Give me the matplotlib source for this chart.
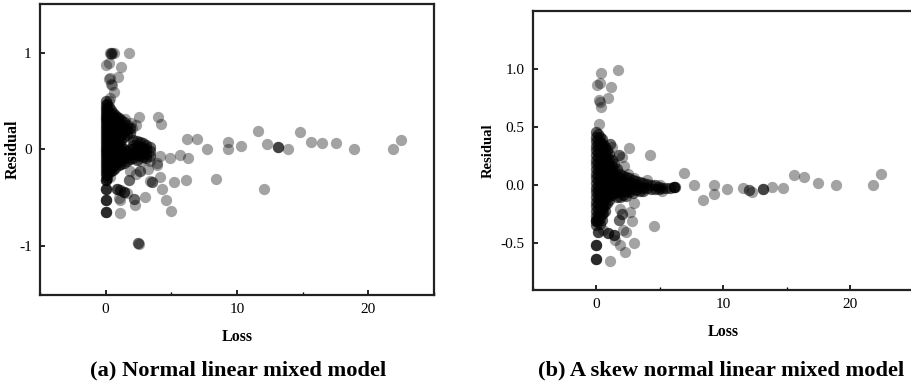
import matplotlib.pyplot as plt
from matplotlib.ticker import MultipleLocator

plt.rcParams['font.family'] = ['Liberation Serif', 'DejaVu Serif']
plt.rcParams['axes.unicode_minus'] = False

# ---------- (a) Normal linear mixed model ----------
# dense core: loss position -> residuals stacked at that loss
a_core = [
    (0.00, [0.50, 0.46, 0.43, 0.40, 0.37, 0.34, 0.31, 0.28, 0.25, 0.22, 0.19, 0.16, 0.13, 0.10, 0.07,
            0.04, 0.01, -0.02, -0.05, -0.08, -0.11, -0.14, -0.17, -0.20, -0.23, -0.26]),
    (0.12, [0.47, 0.42, 0.37, 0.33, 0.29, 0.24, 0.20, 0.15, 0.11, 0.06, 0.02, -0.03, -0.07, -0.12,
            -0.16, -0.21, -0.25, -0.29]),
    (0.25, [0.44, 0.39, 0.35, 0.30, 0.26, 0.21, 0.17, 0.12, 0.08, 0.03, -0.01, -0.06, -0.10, -0.15,
            -0.19, -0.23]),
    (0.40, [0.41, 0.36, 0.31, 0.27, 0.22, 0.18, 0.13, 0.09, 0.04, 0.00, -0.05, -0.09, -0.14, -0.18, -0.22]),
    (0.55, [0.38, 0.33, 0.28, 0.24, 0.19, 0.15, 0.10, 0.06, 0.01, -0.03, -0.08, -0.12, -0.17, -0.21]),
    (0.70, [0.36, 0.31, 0.26, 0.21, 0.17, 0.12, 0.07, 0.03, -0.02, -0.06, -0.11, -0.15, -0.19]),
    (0.85, [0.34, 0.29, 0.24, 0.19, 0.14, 0.09, 0.05, 0.00, -0.04, -0.09, -0.13]),
    (1.00, [0.32, 0.27, 0.22, 0.17, 0.12, 0.07, 0.02, -0.03, -0.07, -0.12, -0.16]),
    (1.20, [0.30, 0.25, 0.20, 0.15, 0.10, 0.04, -0.01, -0.06, -0.10, -0.15]),
    (1.40, [0.28, 0.23, 0.18, 0.13, 0.01, -0.04, -0.09, -0.14]),
    (1.60, [0.25, 0.20, 0.15, -0.02, -0.07, -0.12]),
    (1.85, [0.22, 0.17, 0.00, -0.05, -0.10]),
    (2.10, [0.10, 0.05, 0.00, -0.05, -0.09]),
    (2.35, [0.09, 0.04, -0.01, -0.06, -0.11]),
    (2.60, [0.08, 0.03, -0.02, -0.07]),
    (2.85, [0.07, 0.02, -0.03, -0.08]),
    (3.10, [0.05, 0.00, -0.05, -0.09]),
    (3.35, [0.03, -0.02, -0.07]),
]
a_loss = [0.41, 0.43, 0.45, 0.30, 0.62, 1.75, 0.05, 0.25, 1.17, 0.23, 0.30, 0.91, 0.43, 0.49, 0.61, 0.23, 0.30,
          2.52, 3.99, 4.22, 1.50, 2.00, 2.30, 1.90,
          6.20, 6.96, 7.72, 9.30, 9.30, 10.30, 11.58, 12.30, 13.13, 13.13, 13.13, 13.86, 14.78, 15.67,
          16.48, 17.55, 18.90, 21.86, 22.50,
          4.17, 4.93, 5.64, 6.30, 3.90, 3.90, 4.17, 5.23, 6.15, 8.43, 12.04, 4.30, 4.62, 5.00,
          3.53, 3.53, 3.40, 3.02, 2.13, 2.13, 2.26, 1.07, 1.07, 1.75, 1.75, 1.88, 2.64, 2.64,
          2.47, 2.47, 2.55, 0.36, 1.00, 0.87, 0.87, 0.87, 1.37, 1.37, 1.37, 1.10, 1.10,
          0.00, 0.00, 0.00, 0.00, 0.00, 0.00, 0.00, 0.00, 0.00, 0.00, 0.00, 0.00, 0.00, 0.00, 0.00, 0.00,
          1.60, 2.30, 2.70, 3.20, 3.40]
a_resid = [0.99, 0.985, 0.99, 0.99, 1.00, 1.00, 0.87, 0.89, 0.855, 0.73, 0.74, 0.75, 0.68, 0.67, 0.59, 0.50, 0.53,
           0.33, 0.33, 0.26, 0.31, 0.22, 0.25, 0.27,
           0.11, 0.11, 0.01, 0.08, 0.00, 0.04, 0.19, 0.06, 0.03, 0.03, 0.03, 0.01, 0.18, 0.08,
           0.07, 0.065, 0.00, 0.00, 0.10,
           -0.07, -0.09, -0.06, -0.09, -0.155, -0.14, -0.28, -0.33, -0.31, -0.30, -0.41, -0.41, -0.52, -0.63,
           -0.33, -0.33, -0.32, -0.49, -0.51, -0.51, -0.57, -0.65, -0.52, -0.31, -0.31, -0.22, -0.22, -0.22,
           -0.965, -0.965, -0.97, -0.28, -0.50, -0.41, -0.41, -0.41, -0.44, -0.44, -0.44, -0.42, -0.42,
           -0.64, -0.64, -0.64, -0.64, -0.52, -0.52, -0.52, -0.52, -0.41, -0.41, -0.41, -0.41, -0.31, -0.31, -0.31, -0.31,
           -0.45, -0.25, -0.12, -0.20, -0.12]

# ---------- (b) A skew normal linear mixed model ----------
b_core = [
    (0.00, [0.46, 0.42, 0.38, 0.34, 0.30, 0.26, 0.22, 0.18, 0.14, 0.10, 0.06, 0.02, -0.02, -0.06, -0.10,
            -0.14, -0.18, -0.22, -0.26, -0.30, -0.34]),
    (0.12, [0.44, 0.39, 0.34, 0.29, 0.24, 0.19, 0.14, 0.09, 0.04, -0.01, -0.06, -0.11, -0.16, -0.21, -0.26, -0.31]),
    (0.25, [0.42, 0.37, 0.32, 0.27, 0.22, 0.17, 0.12, 0.07, 0.02, -0.03, -0.08, -0.13, -0.18, -0.23, -0.28, -0.33]),
    (0.40, [0.40, 0.35, 0.30, 0.25, 0.20, 0.15, 0.10, 0.05, 0.00, -0.05, -0.10, -0.15, -0.20, -0.25, -0.30]),
    (0.55, [0.36, 0.31, 0.26, 0.21, 0.16, 0.11, 0.06, 0.01, -0.04, -0.09, -0.14, -0.19, -0.24]),
    (0.70, [0.33, 0.28, 0.23, 0.18, 0.13, 0.08, 0.03, -0.02, -0.07, -0.12, -0.17, -0.22]),
    (0.85, [0.30, 0.25, 0.20, 0.15, 0.10, 0.05, 0.00, -0.05, -0.10, -0.15]),
    (1.00, [0.27, 0.22, 0.17, 0.12, 0.07, 0.02, -0.03, -0.08, -0.13]),
    (1.20, [0.22, 0.17, 0.12, 0.07, 0.02, -0.03, -0.08]),
    (1.40, [0.18, 0.13, 0.08, 0.03, -0.02, -0.07]),
    (1.60, [0.14, 0.09, 0.04, -0.01, -0.06, -0.10]),
    (1.85, [0.10, 0.06, 0.02, -0.02, -0.06, -0.10]),
    (2.10, [0.08, 0.04, 0.00, -0.04, -0.08]),
    (2.35, [0.07, 0.03, -0.01, -0.05, -0.09]),
    (2.60, [0.06, 0.02, -0.02, -0.06]),
    (2.85, [0.05, 0.01, -0.03, -0.07]),
    (3.10, [0.04, 0.00, -0.04]),
    (3.40, [0.03, -0.01, -0.05]),
    (3.70, [0.02, -0.02, -0.05]),
    (4.00, [0.01, -0.02]),
    (4.30, [0.00, -0.03]),
    (4.60, [0.00, -0.03]),
    (4.90, [-0.01, -0.03]),
    (5.20, [-0.02]),
    (5.50, [-0.02]),
    (5.80, [-0.02]),
    (6.15, [-0.01, -0.015]),
]
b_loss = [1.70, 0.37, 0.05, 0.30, 1.16, 0.89, 0.18, 0.25, 0.39, 0.18,
          1.05, 1.05, 1.20, 1.76, 1.76, 2.00, 2.54, 4.20, 2.20, 2.50, 3.00,
          6.93, 7.66, 8.40, 9.24, 9.24, 10.30, 11.55, 12.00, 12.00, 12.26, 13.10, 13.10, 13.10, 13.86,
          14.72, 15.60, 16.40, 17.50, 18.87, 21.80, 22.44,
          5.04, 5.17, 4.00, 6.20, 6.20,
          2.94, 2.68, 2.80, 4.57, 1.84, 1.76, 1.76, 2.10, 1.36, 1.36, 1.36, 0.90, 0.90, 0.90,
          0.10, 0.10, 0.10, 0.00, 0.00, 0.00, 0.00, 0.00, 0.00, 0.00, 0.00, 1.05, 2.94, 2.28, 1.84,
          0.00, 0.00, 0.00, 2.00, 2.00, 1.50, 2.30, 0.50]
b_resid = [0.99, 0.97, 0.86, 0.88, 0.85, 0.75, 0.735, 0.72, 0.67, 0.53,
           0.36, 0.36, 0.33, 0.26, 0.26, 0.24, 0.32, 0.26, 0.17, 0.10, 0.06,
           0.11, 0.00, -0.13, 0.005, -0.075, -0.035, -0.02, -0.04, -0.04, -0.055, -0.03, -0.03, -0.03, -0.01,
           -0.02, 0.085, 0.07, 0.02, 0.00, 0.00, 0.10,
           0.00, -0.045, 0.045, -0.01, -0.01,
           -0.155, -0.23, -0.31, -0.35, -0.20, -0.30, -0.30, -0.385, -0.43, -0.43, -0.43, -0.41, -0.41, -0.41,
           -0.40, -0.40, -0.40, -0.51, -0.51, -0.51, -0.51, -0.63, -0.63, -0.63, -0.63, -0.65, -0.50, -0.57, -0.51,
           -0.31, -0.31, -0.31, -0.25, -0.25, -0.47, -0.40, -0.38]


def draw_panel(ax, core, loss, resid, ylim, yticks, yfmt, ylab_x):
    xs = list(loss)
    ys = list(resid)
    # the core holds many overlapping observations, each column drawn twice
    for x, col in core:
        xs += [x] * len(col) * 2
        ys += col * 2
    ax.scatter(xs, ys, s=66, color='black', alpha=0.36, linewidths=0)
    ax.set_xlim(-5, 25)
    ax.set_ylim(*ylim)
    ax.set_xticks([0, 10, 20])
    ax.xaxis.set_minor_locator(MultipleLocator(5))
    ax.set_yticks(yticks)
    ax.set_yticklabels([yfmt.format(v) for v in yticks])
    ax.tick_params(axis='both', which='major', direction='in', length=3.5, width=1.2,
                   labelsize=11, pad=6, top=False, right=False)
    ax.tick_params(axis='x', which='minor', direction='in', length=2, width=1.0, top=False)
    for sp in ax.spines.values():
        sp.set_linewidth(1.6)
        sp.set_color('#222222')
    ax.set_xlabel('Loss', fontsize=11.5, fontweight='bold', labelpad=9)
    ax.set_ylabel('Residual', fontsize=11.5, fontweight='bold')
    ax.yaxis.set_label_coords(ylab_x, 0.5)


fig = plt.figure(figsize=(9.11, 3.85), dpi=100)
ax1 = fig.add_axes([0.0439, 0.2338, 0.4325, 0.7558])
ax2 = fig.add_axes([0.5851, 0.2468, 0.4177, 0.7247])

draw_panel(ax1, a_core, a_loss, a_resid, (-1.5, 1.5), [-1, 0, 1], '{:g}', -0.05)
draw_panel(ax2, b_core, b_loss, b_resid, (-0.9, 1.5), [-0.5, 0.0, 0.5, 1.0], '{:.1f}', -0.1)
ax2.yaxis.label.set_size(10.5)

fig.text(0.2616, 0.039, '(a) Normal linear mixed model', ha='center', va='center',
         fontsize=16.2, fontweight='bold')
fig.text(0.792, 0.039, '(b) A skew normal linear mixed model', ha='center', va='center',
         fontsize=16.2, fontweight='bold')

fig.savefig('out.png', dpi=100)
